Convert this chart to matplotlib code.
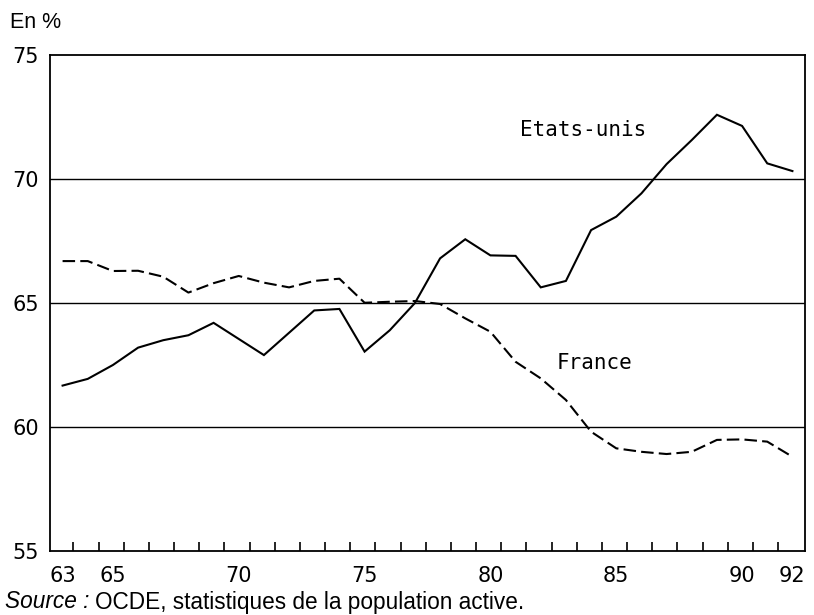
import matplotlib
matplotlib.use("Agg")
import matplotlib.pyplot as plt
import numpy as np

years = list(range(1963, 1993))
etats_unis = [61.67, 61.94, 62.5, 63.2, 63.5, 63.7, 64.2, 63.55, 62.9, 63.8,
              64.7, 64.76, 63.04, 63.9, 65.0, 66.8, 67.57, 66.92, 66.9, 65.63,
              65.89, 67.94, 68.48, 69.42, 70.6, 71.57, 72.59, 72.14, 70.63, 70.32]
france = [66.69, 66.69, 66.29, 66.3, 66.06, 65.42, 65.8, 66.09, 65.82, 65.63,
          65.89, 65.98, 65.01, 65.05, 65.08, 64.96, 64.38, 63.84, 62.63, 61.96,
          61.09, 59.81, 59.14, 59.0, 58.91, 59.0, 59.48, 59.5, 59.41, 58.8]
xtick_years = [1963, 1965, 1970, 1975, 1980, 1985, 1990, 1992]
xtick_labels = ["63", "65", "70", "75", "80", "85", "90", "92"]
yticks = [55, 60, 65, 70, 75]
label_us = "Etats-unis"
label_fr = "France"
ylabel = "En %"

fig = plt.figure(figsize=(8.14, 6.15), dpi=100)
ax = fig.add_axes([50/814, 1 - 551/615, 755/814, 496/615])

for g in [60, 65, 70]:
    ax.axhline(g, color="black", lw=1.0, zorder=1)

ax.plot(years, etats_unis, color="black", lw=1.5, solid_joinstyle="miter", zorder=3)
ax.plot(years, france, color="black", lw=1.5, dashes=(6, 2.5), zorder=3)

ax.set_xlim(1962.5, 1992.5)
ax.set_ylim(55, 75)
ax.set_xticks(xtick_years)
ax.set_xticklabels(xtick_labels)
ax.set_xticks([y + 0.43 for y in years[:-1]], minor=True)
ax.set_yticks(yticks)
ax.set_yticklabels([str(v) for v in yticks])
ax.tick_params(axis="x", which="major", length=0, pad=11, labelsize=15)
ax.tick_params(axis="x", which="minor", direction="in", length=6.5, width=1.2, top=False)
ax.tick_params(axis="y", which="major", length=0, pad=8, labelsize=15)
for s in ax.spines.values():
    s.set_linewidth(1.3)

ax.text(1983.7, 71.98, label_us, fontsize=15, family="DejaVu Sans Mono",
        ha="center", va="center")
ax.text(1984.15, 62.6, label_fr, fontsize=15, family="DejaVu Sans Mono",
        ha="center", va="center")

fig.text(10/814, 1 - 23/615, ylabel, fontsize=15.5, family="Liberation Sans",
         ha="left", va="center")
t1 = fig.text(5/814, 1 - 602/615, "Source :", fontsize=16.3, family="Liberation Sans",
              style="italic", ha="left", va="center")
fig.canvas.draw()
bb = t1.get_window_extent(renderer=fig.canvas.get_renderer())
fig.text((bb.x1 + 6) / 814, 1 - 602/615, "OCDE, statistiques de la population active.",
         fontsize=16.3, family="Liberation Sans", ha="left", va="center")

fig.savefig("out.png", dpi=100)
